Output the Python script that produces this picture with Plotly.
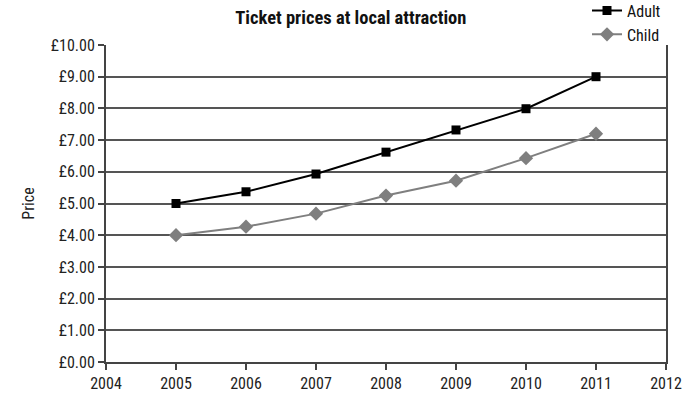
import plotly.graph_objects as go

years = [2005, 2006, 2007, 2008, 2009, 2010, 2011]
adult = [5.00, 5.37, 5.93, 6.62, 7.32, 7.99, 9.00]
child = [4.00, 4.27, 4.68, 5.25, 5.72, 6.43, 7.20]
y_ticks = [0, 1, 2, 3, 4, 5, 6, 7, 8, 9, 10]
y_tick_labels = ["£%.2f" % v for v in y_ticks]
x_ticks = list(range(2004, 2013))

FONT = "Liberation Sans Narrow, Roboto Condensed, Liberation Sans, Arial"

fig = go.Figure()
fig.add_trace(go.Scatter(x=years, y=adult, name="Adult", mode="lines+markers",
                         line=dict(color="#000000", width=2),
                         marker=dict(symbol="square", size=9, color="#000000")))
fig.add_trace(go.Scatter(x=years, y=child, name="Child", mode="lines+markers",
                         line=dict(color="#7f7f7f", width=2),
                         marker=dict(symbol="diamond", size=11, color="#7f7f7f")))

fig.update_layout(
    width=692, height=396,
    margin=dict(l=106, r=26, t=45, b=34, autoexpand=False),
    paper_bgcolor="white", plot_bgcolor="white",
    font=dict(family=FONT, size=16, color="#222222"),
    title=dict(text="<b>Ticket prices at local attraction</b>", x=0.507, xanchor="center",
               y=0.955, yanchor="middle", font=dict(size=18.5, color="#111111", family=FONT)),
    legend=dict(x=1.0, xanchor="right", y=1.162, yref="paper", yanchor="top",
                bgcolor="rgba(0,0,0,0)",
                font=dict(size=16, color="#111111"), itemwidth=30, tracegroupgap=0),
    showlegend=True,
)
fig.update_xaxes(range=[2004, 2012], tickvals=x_ticks, ticktext=[str(t) for t in x_ticks],
                 showgrid=False, showline=True, linecolor="#444444", linewidth=2,
                 ticks="outside", ticklen=6, tickwidth=2, tickcolor="#444444",
                 zeroline=False, tickfont=dict(size=16))
fig.update_yaxes(range=[0, 10], tickvals=y_ticks, ticktext=y_tick_labels,
                 showgrid=True, gridcolor="#555555", gridwidth=2,
                 showline=True, linecolor="#444444", linewidth=2, mirror=True,
                 ticks="outside", ticklen=6, tickwidth=2, tickcolor="#444444",
                 zeroline=False, tickfont=dict(size=16),
                 title=dict(text="Price", font=dict(size=16), standoff=12))

fig.write_html("out.html", config={"displayModeBar": False},
               post_script="document.body.style.margin='0';")
